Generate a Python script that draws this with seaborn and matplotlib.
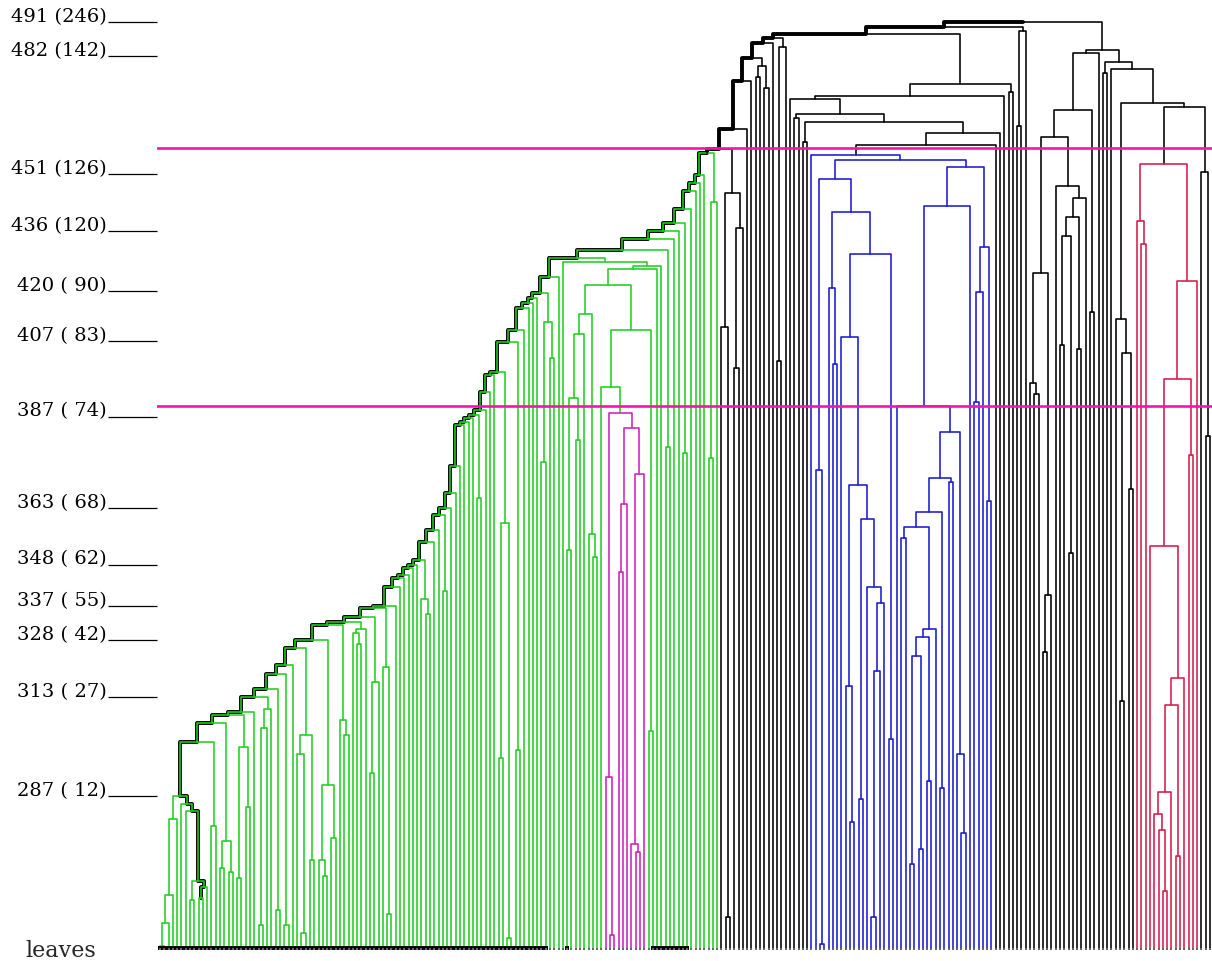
import re
import pandas as pd
import matplotlib
matplotlib.use("Agg")
import matplotlib.pyplot as plt
import seaborn as sns

# level axis (value, cluster count shown in brackets)
LEVELS = [491, 482, 451, 436, 420, 407, 387, 363, 348, 337, 328, 313, 287]
LEVEL_COUNTS = [246, 142, 126, 120, 90, 83, 74, 68, 62, 55, 42, 27, 12]
THRESHOLDS = [457.8, 389.8]
BASE = 247.0

# leaves drawn with the heavy black bar on the baseline (first, last leaf)
MARKED_LEAVES = [(0, 37), (38, 90), (95, 95), (115, 123)]

COLORS = {"g": "#20d020", "b": "#1a1ad0", "r": "#d81a4a", "m": "#d020c0", "k": "#000000"}

# trees are written as (left,right)height ; x = leaf ; * = start of traced path ; #c = colour
GREEN_BASE = "(((((x,x)247.5,x)253.5,x)261,x)281,(x,(x,((x,x)259.5,((x,x)260*,x)263)264.5)283)285)287"

# big green sub-cluster with the magenta group inside
W568 = "((x,x)351.8,(x,x)380.8)391.9"
X580 = f"(({W568},x)408.8,(x,(x,x)350)356)414"
MAGENTA = "((x,(x,x)250.3)292,(((x,x)346,x)363.9,((x,(x,x)272.2)274.3,x)371.9)384)387.9#m"
G330 = f"((x,{MAGENTA})394.8,(x,x)304.1)409.8"
BIG_GREEN = f"(x,((({X580},{G330})421.7,x)425.9,x)426.7)427.7"

GREEN_STEPS = [301.2, 306.2, 308.3, 309.1, 313.1, 315.2, 319.1, 321.5, 326.0, 328.1,
               332.0, 332.8, 334.2, 336.5, 337.1, 342.1, 344.4, 345.2, 347.1, 347.9,
               349.2, 353.9, 357.1, 361.0, 362.9, 366.8, 374.0, 384.8, 385.6, 386.6,
               387.4, 388.7, 393.5, 397.9, 398.7, 406.6, 409.8, 415.6, 416.9, 418.2,
               419.6, 423.8, 428.8, 430.9, 433.8, 435.9, 438.0, 441.7, 446.5, 448.6,
               450.7, 456.5]
GREEN_PARTS = ["(x,x)279", "((x,x)268,(x,x)267)275", "((x,x)265.5,(x,x)284)300", "x",
               "(((x,x)253,x)305,x)310", "(x,x)257", "(x,x)253", "x",
               "((x,(x,x)251)298,(x,x)270)303", "((x,(x,x)266)270,(x,x)276)290",
               "(x,(x,x)303)307", "((x,(x,x)327)330,x)331", "((x,x)293,x)317",
               "(x,(x,x)256)321", "x", "x", "x", "x", "x", "x",
               "(x,(x,x)335)339", "x", "x", "(x,x)341", "x", "x", "x", "x", "x", "x",
               "(x,x)365.5", "x", "x", "x", "((x,x)297,(x,x)249.5)359", "(x,x)299",
               "x", "x", "x", "x", "((x,x)375,(x,x)402.5)412", "x", BIG_GREEN,
               "(x,x)379", "x", "x", "(x,x)377.5", "x", "x", "x", "x", "((x,x)376,x)443.5"]

# blue cluster
B2G = "(x,(x,x)280.1)316"
B2J = "(x,(((x,x)255.1,x)319.9,x)337.9)342.1"
B2E = f"(x,({B2G},((x,x)286.2,{B2J})360)368.9)408"
B2 = f"((x,(x,x)248)372.9,((x,(x,x)400.8)420.9,({B2E},(x,x)302)429.8)440.9)449.6"
B3K = "(((x,x)269,(x,x)273)323.9,(x,x)290.9)328.9"
B3G = f"(((x,x)355,({B3K},x)331)357.9,(x,x)289.1)361.8"
B3C = f"(x,(({B3G},(x,x)369.7)370.8,(x,(x,x)277.2)298)382.9)389.8"
B3 = f"(({B3C},x)442.5,(((x,x)390.8,x)419.8,(x,x)364.8)431.7)452.8"
BLUE = f"(x,({B2},{B3})454.6)456#b"
T84 = f"(((x,((x,x)465.7,((x,x)459.4,(({BLUE},x)458.6,x)461.7)464.6)466.7)470.7,x)471.5,(x,x)472.5)474.7"

# right-hand part with the red cluster
R_C = "((x,(x,x)392.9)395.8,((x,x)324.9,x)340)424.8"
R_H = "((((x,x)405.9,(x,x)351)434.6,(x,x)404.8)439.6,x)444.6"
R_L = f"((({R_C},(x,{R_H})447.8)460.7,(x,x)414.5)467.8,x)482.8"
R_M = "(x,((x,x)312,(x,x)368)403.7)412.7"
R_Z = "((((x,(x,(x,x)261.9)278)282.2,x)288,(x,x)271.2)311,x)318.1"
RED = f"((x,(x,x)432.5)438.5,(((x,{R_Z})352.9,(x,x)376.9)396.9,x)422.7)453.6#r"
R_R = f"((x,x)477.6,(x,({R_M},({RED},(x,(x,x)381.9)451.5)468.6)469.6)478.6)480.5"
RIGHT = f"({R_L},{R_R})483.6"

TOP_STEPS = [457.5, 462.8, 475.4, 481.5, 485.5, 486.8, 487.8, 489.7, 491.0]
TOP_PARTS = ["((x,(x,x)255)410.6,((x,x)399.8,x)436.7)445.9", "x", "x",
             "((x,x)476.5,(x,x)473.6)479.4", "x", "((x,x)401.6,x)484.4",
             T84, "((x,x)463.6,x)488.6", RIGHT]

TOKEN = re.compile(r"\(|\)|,|x|[0-9.]+|\*|#[a-z]")


def parse(text):
    tokens = TOKEN.findall(text)
    pos = 0

    def node():
        nonlocal pos
        tok = tokens[pos]
        pos += 1
        if tok == "x":
            return {"h": BASE, "kids": []}
        left = node()
        pos += 1
        right = node()
        pos += 1
        n = {"h": float(tokens[pos]), "kids": [left, right]}
        pos += 1
        while pos < len(tokens) and tokens[pos][0] in "*#":
            if tokens[pos] == "*":
                n["mark"] = True
            else:
                n["color"] = tokens[pos][1]
            pos += 1
        return n

    return node()


tree = parse(GREEN_BASE)
for h, part in zip(GREEN_STEPS, GREEN_PARTS):
    tree = {"h": h, "kids": [tree, parse(part)]}
tree["color"] = "g"
for h, part in zip(TOP_STEPS, TOP_PARTS):
    tree = {"h": h, "kids": [tree, parse(part)]}

leaves = []
internal = []


def layout(n, color, parent):
    n["parent"] = parent
    n["c"] = n.get("color", color)
    if not n["kids"]:
        n["x"] = len(leaves)
        leaves.append(n)
        return
    for k in n["kids"]:
        layout(k, n["c"], n)
    n["x"] = (n["kids"][0]["x"] + n["kids"][1]["x"]) / 2
    internal.append(n)


layout(tree, "k", None)

rows = []
for i, n in enumerate(internal):
    a, b = n["kids"]
    for x, y in [(a["x"], a["h"]), (a["x"], n["h"]), (b["x"], n["h"]), (b["x"], b["h"])]:
        rows.append({"x": x, "y": y, "seg": i, "c": n["c"]})
seg_df = pd.DataFrame(rows)

start = next(n for n in internal if n.get("mark"))
path = [(start["x"], start["h"])]
n = start
while n["parent"] is not None:
    p = n["parent"]
    path += [(n["x"], p["h"]), (p["x"], p["h"])]
    n = p
path_df = pd.DataFrame(path, columns=["x", "y"])

sns.set_theme(style="white")
plt.rcParams["font.family"] = ["DejaVu Serif"]

fig = plt.figure(figsize=(12.12, 9.61), dpi=100)
ax = fig.add_axes([157 / 1212, 0, 1 - 157 / 1212, 1])
nl = len(leaves)
u = 1050 / (nl - 1)
ax.set_xlim(-3 / u, (nl - 1) + 2 / u)
ax.set_ylim(243.5, 496.8)

sns.lineplot(data=path_df, x="x", y="y", sort=False, estimator=None, color="black",
             lw=2.8, ax=ax, zorder=2)
sns.lineplot(data=seg_df, x="x", y="y", units="seg", hue="c", palette=COLORS,
             estimator=None, sort=False, legend=False, lw=1.15, ax=ax, zorder=3)

for first, last in MARKED_LEAVES:
    ax.plot([first - 0.45, last + 0.45], [BASE, BASE], color="black", lw=2.8,
            solid_capstyle="butt", zorder=4)
ax.scatter(range(nl), [BASE - 0.3] * nl, marker="s", s=2, color="#666666", lw=0, zorder=4)

for t in THRESHOLDS:
    ax.axhline(t, color="#ff10b0", lw=1.9, zorder=5)

sns.despine(ax=ax, left=True, bottom=True)
ax.set_xticks([])
ax.set_xlabel("")
ax.set_ylabel("")
ax.set_yticks(LEVELS, labels=[f"{v} ({c:>3})" for v, c in zip(LEVELS, LEVEL_COUNTS)])
ax.tick_params(axis="y", left=True, length=35.5, width=0.9, pad=1, labelsize=14,
               color="black", labelcolor="black", direction="out")
for lab in ax.get_yticklabels():
    lab.set_verticalalignment("baseline")

fig.text(61 / 1212, 1 - 951 / 961, "leaves", ha="center", va="center", fontsize=16)

fig.savefig("out.png", dpi=100)
